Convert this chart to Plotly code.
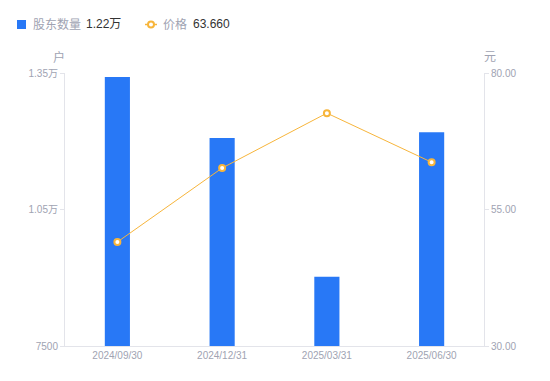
import plotly.graph_objects as go

categories = ["2024/09/30", "2024/12/31", "2025/03/31", "2025/06/30"]
holders = [13410, 12070, 9020, 12200]
prices = [49.05, 62.6, 72.65, 63.66]
left_ticks = [7500, 10500, 13500]
left_tick_text = ["7500", "1.05万", "1.35万"]
right_ticks = [30, 55, 80]
right_tick_text = ["30.00", "55.00", "80.00"]
legend_names = ["股东数量", "价格"]
legend_values = ["1.22万", "63.660"]

BLUE = "#2878F6"
ORANGE = "#F7B53B"
GRAY = "#A0A3B2"
AXIS = "#E3E4EA"
FONT = "Liberation Sans, Arial, Noto Sans CJK SC, sans-serif"

W, H = 550, 381
L, R, T, B = 65, 66, 73, 35
PW, PH = W - L - R, H - T - B

def px(x):
    return (x - L) / PW

def py(y):
    return (H - B - y) / PH

fig = go.Figure()
fig.add_trace(go.Bar(
    x=categories, y=holders, marker=dict(color=BLUE, line=dict(width=0)),
    width=0.24, yaxis="y", name=legend_names[0], showlegend=False,
))
fig.add_trace(go.Scatter(
    x=categories, y=prices, yaxis="y2", mode="lines+markers",
    line=dict(color=ORANGE, width=1),
    marker=dict(symbol="circle", size=6, color="white", line=dict(color=ORANGE, width=2)),
    name=legend_names[1], showlegend=False,
))

# custom legend
fig.add_shape(type="rect", xref="paper", yref="paper",
              x0=px(17), x1=px(26), y0=py(29), y1=py(20),
              fillcolor=BLUE, line=dict(width=0))
fig.add_shape(type="line", xref="paper", yref="paper",
              x0=px(145), x1=px(157), y0=py(24.5), y1=py(24.5),
              line=dict(color=ORANGE, width=1.5))
fig.add_shape(type="circle", xref="paper", yref="paper",
              x0=px(148), x1=px(154), y0=py(27.5), y1=py(21.5),
              fillcolor="white", line=dict(color=ORANGE, width=2))
anns = [
    (31, 24.5, legend_names[0], GRAY, 12),
    (84, 24.5, legend_values[0], "#333333", 12),
    (161, 24.5, legend_names[1], GRAY, 12),
    (191, 24.5, legend_values[1], "#333333", 12),
]
for x, y, t, c, s in anns:
    fig.add_annotation(x=px(x), y=py(y), xref="paper", yref="paper", text=t,
                       showarrow=False, xanchor="left", yanchor="middle",
                       font=dict(color=c, size=s, family=FONT))
# axis units
fig.add_annotation(x=px(59), y=py(57), xref="paper", yref="paper", text="户",
                   showarrow=False, xanchor="center", yanchor="middle",
                   font=dict(color=GRAY, size=12, family=FONT))
fig.add_annotation(x=px(490), y=py(57), xref="paper", yref="paper", text="元",
                   showarrow=False, xanchor="center", yanchor="middle",
                   font=dict(color=GRAY, size=12, family=FONT))

fig.update_layout(
    width=W, height=H,
    margin=dict(l=L, r=R, t=T, b=B),
    paper_bgcolor="white", plot_bgcolor="white",
    font=dict(family=FONT, color=GRAY, size=10),
    bargap=0.76,
    xaxis=dict(
        type="category", showgrid=False, showline=True, linecolor=AXIS, linewidth=1,
        ticks="", tickfont=dict(size=10, color=GRAY), zeroline=False,
    ),
    yaxis=dict(
        range=[7500, 13500], tickvals=left_ticks, ticktext=left_tick_text,
        showgrid=False, showline=True, linecolor=AXIS, linewidth=1,
        ticks="outside", ticklen=4, tickcolor=AXIS, zeroline=False,
        tickfont=dict(size=10, color=GRAY),
    ),
    yaxis2=dict(
        range=[30, 80], tickvals=right_ticks, ticktext=right_tick_text,
        overlaying="y", side="right", showgrid=False, showline=True,
        linecolor=AXIS, linewidth=1, ticks="outside", ticklen=4, tickcolor=AXIS,
        zeroline=False, tickfont=dict(size=10, color=GRAY),
    ),
)

fig.write_html(
    "out.html",
    config={"displayModeBar": False},
    post_script="document.body.style.margin='0';document.body.style.overflow='hidden';",
)
